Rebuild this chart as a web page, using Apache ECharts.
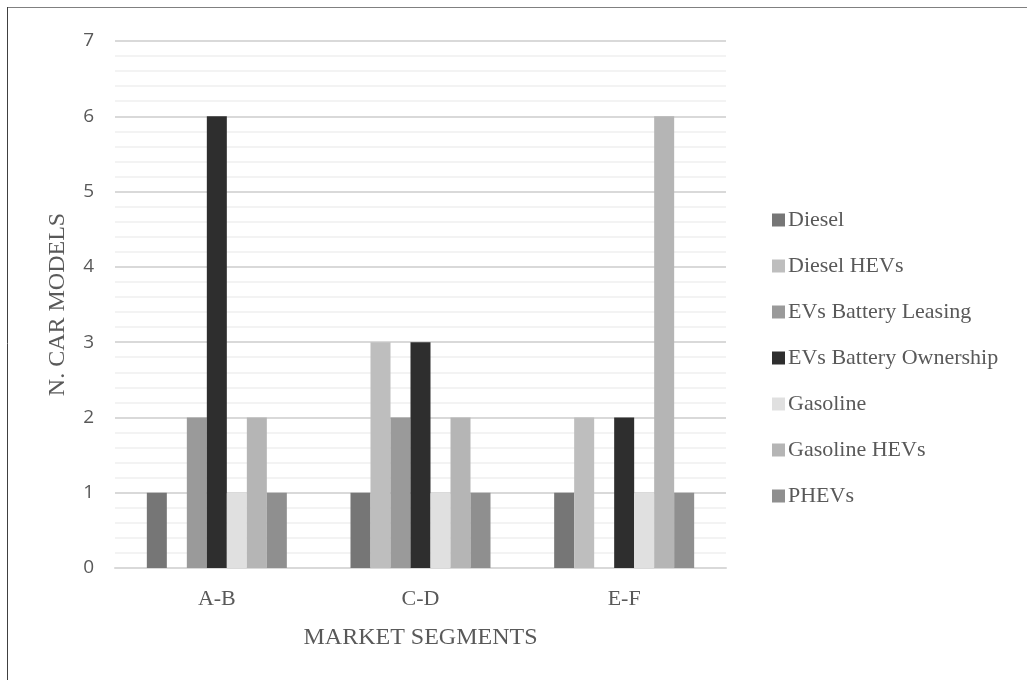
<!DOCTYPE html>
<html>
<head>
<meta charset="utf-8">
<script src="https://cdn.jsdelivr.net/npm/echarts@6/dist/echarts.min.js"></script>
<style>
  html, body { margin: 0; padding: 0; background: #fff; }
  #chart { width: 1027px; height: 680px; }
</style>
</head>
<body>
<div id="chart"></div>
<script>
const segments = ['A-B', 'C-D', 'E-F'];
const seriesNames = ['Diesel', 'Diesel HEVs', 'EVs Battery Leasing', 'EVs Battery Ownership', 'Gasoline', 'Gasoline HEVs', 'PHEVs'];
const diesel = [1, 1, 1];
const dieselHevs = [0, 3, 2];
const evsLeasing = [2, 2, 0];
const evsOwnership = [6, 3, 2];
const gasoline = [1, 1, 1];
const gasolineHevs = [2, 2, 6];
const phevs = [1, 1, 1];
const colors = ['#767676', '#bebebe', '#9a9a9a', '#2e2e2e', '#e0e0e0', '#b5b5b5', '#8f8f8f'];

const values = [diesel, dieselHevs, evsLeasing, evsOwnership, gasoline, gasolineHevs, phevs];
const serif = '"Liberation Serif", "DejaVu Serif", serif';
const textColor = '#595959';

const chart = echarts.init(document.getElementById('chart'), null, { renderer: 'canvas' });

const option = {
  backgroundColor: '#ffffff',
  animation: false,
  color: colors,
  grid: { left: 115, right: 301, top: 41, bottom: 112 },
  legend: {
    orient: 'vertical',
    left: 767,
    top: 204,
    itemWidth: 13,
    itemHeight: 13,
    itemGap: 24,
    icon: 'rect',
    textStyle: { fontFamily: serif, fontSize: 22, color: textColor, lineHeight: 22, padding: [0, 0, 0, -2] },
    data: seriesNames
  },
  xAxis: {
    type: 'category',
    data: segments,
    name: 'MARKET SEGMENTS',
    nameLocation: 'middle',
    nameGap: 58,
    nameTextStyle: { fontFamily: serif, fontSize: 24, color: textColor },
    axisLine: { lineStyle: { color: '#d9d9d9', width: 2 } },
    axisTick: { show: false },
    axisLabel: { fontFamily: serif, fontSize: 22, color: textColor, margin: 20 }
  },
  yAxis: {
    type: 'value',
    min: 0,
    max: 7,
    interval: 1,
    name: 'N. CAR MODELS',
    nameLocation: 'middle',
    nameGap: 45,
    nameTextStyle: { fontFamily: serif, fontSize: 24, color: textColor },
    axisLine: { show: false },
    axisTick: { show: false },
    axisLabel: { fontFamily: '"Open Sans", sans-serif', fontSize: 19, color: textColor, margin: 21 },
    splitLine: { lineStyle: { color: '#d9d9d9', width: 2 } },
    minorTick: { show: false, splitNumber: 5 },
    minorSplitLine: { show: true, lineStyle: { color: '#f0f0f0', width: 1.5 } }
  },
  graphic: [
    { type: 'line', shape: { x1: 7, y1: 7.5, x2: 1027, y2: 7.5 }, style: { stroke: '#808080', lineWidth: 1 } },
    { type: 'line', shape: { x1: 7.5, y1: 7, x2: 7.5, y2: 680 }, style: { stroke: '#404040', lineWidth: 1 } }
  ],
  series: seriesNames.map((name, i) => ({
    name: name,
    type: 'bar',
    data: values[i],
    barWidth: 20,
    barGap: '0%',
    itemStyle: { color: colors[i] }
  }))
};

chart.setOption(option);
</script>
</body>
</html>
